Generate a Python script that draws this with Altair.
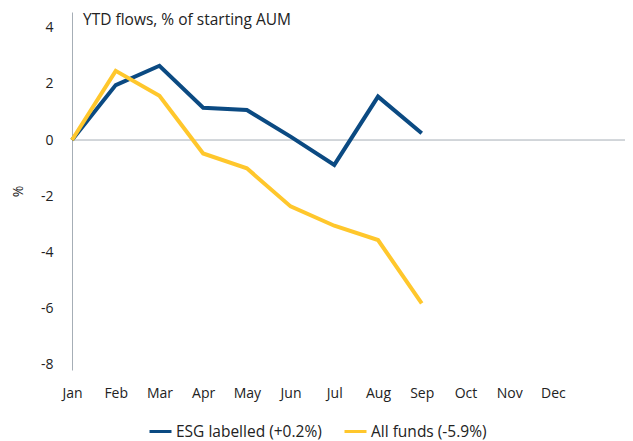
import altair as alt
import pandas as pd

months = ["Jan", "Feb", "Mar", "Apr", "May", "Jun", "Jul", "Aug", "Sep", "Oct", "Nov", "Dec"]
esg_values = [0.0, 1.96, 2.65, 1.15, 1.07, 0.12, -0.89, 1.55, 0.24]
all_values = [0.0, 2.47, 1.58, -0.48, -1.01, -2.37, -3.06, -3.57, -5.83]
series_names = ["ESG labelled (+0.2%)", "All funds (-5.9%)"]
series_colors = ["#0b4a82", "#ffc72c"]
y_ticks = [-8, -6, -4, -2, 0, 2, 4]
chart_title = "YTD flows, % of starting AUM"

rows = []
for k, (name, vals) in enumerate(zip(series_names, [esg_values, all_values])):
    for i, v in enumerate(vals):
        rows.append({"series": name, "idx": i, "month": months[i], "value": v, "k": k})
df = pd.DataFrame(rows)

FONT = "Open Sans"
TEXT = "#222222"
GREY = "#a6aeb6"
W, H = 553, 358

label_expr = "[" + ",".join("'%s'" % m for m in months) + "][datum.value]"

x_enc = alt.X(
    "idx:Q",
    scale=alt.Scale(domain=[0, 12.65], nice=False, zero=False),
    axis=alt.Axis(values=list(range(12)), labelExpr=label_expr, title=None,
                  domain=False, ticks=False, grid=False, labelPadding=16,
                  labelFlush=False, labelOverlap=False,
                  labelFontSize=14, labelFont=FONT, labelColor=TEXT),
)
y_enc = alt.Y(
    "value:Q",
    scale=alt.Scale(domain=[-8.21, 4.57], nice=False, zero=False),
    axis=alt.Axis(values=y_ticks, labelExpr="'' + datum.value", title="%",
                  grid=False, ticks=False, domainColor=GREY, domainWidth=1,
                  labelPadding=19, labelFontSize=14, labelFont=FONT, labelColor=TEXT,
                  titleFont=FONT, titleFontSize=14, titleFontWeight="normal",
                  titleColor=TEXT, titlePadding=15),
)

zero_line = alt.Chart(pd.DataFrame({"v": [0]})).mark_rule(color=GREY, strokeWidth=1).encode(
    y=alt.Y("v:Q", scale=alt.Scale(domain=[-8.21, 4.57], nice=False, zero=False))
)

lines = alt.Chart(df).mark_line(strokeWidth=4, strokeJoin="miter", strokeCap="butt").encode(
    x=x_enc,
    y=y_enc,
    color=alt.Color(
        "series:N",
        scale=alt.Scale(domain=series_names, range=series_colors),
        legend=alt.Legend(orient="none", legendX=76, legendY=407, direction="horizontal",
                          title=None, symbolType="stroke", symbolSize=484,
                          symbolStrokeWidth=3, labelFont=FONT, labelFontSize=15.5,
                          labelColor=TEXT, columnPadding=16, labelOffset=3),
    ),
    order=alt.Order("k:Q"),
)

title_text = alt.Chart(pd.DataFrame({"t": [chart_title]})).mark_text(
    align="left", baseline="middle", font=FONT, fontSize=15.5, color=TEXT
).encode(x=alt.value(11), y=alt.value(8), text="t:N")

chart = alt.layer(zero_line, lines, title_text).properties(
    width=W, height=H,
    autosize=alt.AutoSizeParams(type="none"),
    padding={"left": 64, "top": 4, "right": 0, "bottom": 71},
).configure_view(stroke=None)

chart.save("out.html", embed_options={"renderer": "svg", "actions": False})
